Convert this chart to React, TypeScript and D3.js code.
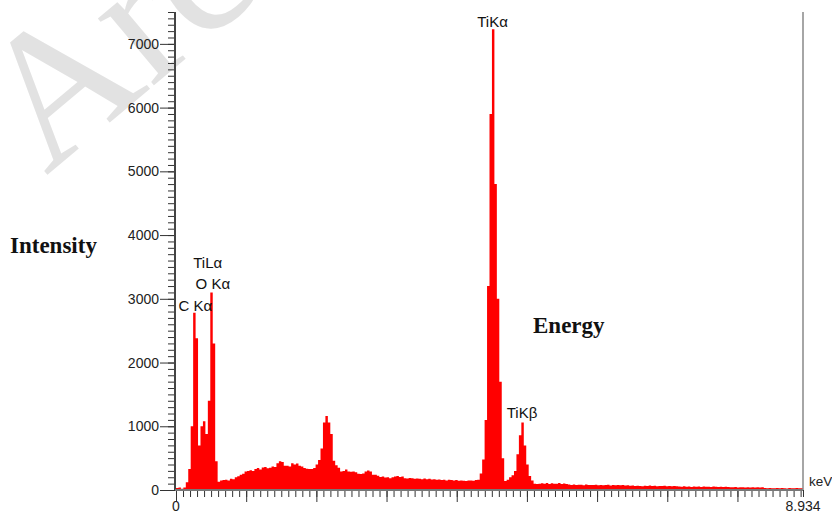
import React, { useEffect, useRef } from "react";
import * as d3 from "d3";

// EDS spectrum, counts per channel (256 channels over 0 - 8.934 keV)
const lowEnergy = [30, 40, 20, 40, 120, 330, 1000, 2780, 2380, 700, 1000, 1080, 880, 1400, 3100, 2300, 450, 130];
const background1 = [
  150, 155, 160, 150, 175, 170, 200, 215, 240, 255, 290, 300, 310, 300, 330, 345, 320, 355, 360, 340,
  350, 370, 360, 420, 450, 440, 380, 380, 370, 420, 400, 415, 380, 370, 345, 335, 330, 330, 345, 400,
];
const background2 = [
  470, 650, 1060, 1160, 1060, 880, 460, 390, 350,
  290, 300, 320, 290, 285, 290, 280, 255, 250, 260, 290, 305, 290,
  240, 240, 225, 205, 210, 195, 200, 185, 200, 210, 220, 205, 210, 185, 180, 190, 185, 175, 180, 175,
  170, 180, 170, 175, 165, 170, 160, 165, 155, 160, 150, 160, 155, 150, 155, 145, 150, 145, 140, 150, 150, 145, 155, 160,
];
const tiK = [260, 480, 1100, 3200, 5900, 7230, 4800, 3000, 1700, 500, 140, 160, 200, 230, 300, 560, 860, 1060, 700, 400, 220, 150, 100, 95, 100, 105];
const tail = [
  100, 110, 95, 105, 100, 98, 108, 96, 102, 94,
  85, 80, 88, 78, 84, 82, 76, 86, 80, 79,
  78, 82, 74, 80, 76, 79, 84, 72, 78, 75, 80, 73, 77, 70, 74,
  66, 70, 62, 68, 64, 60, 67, 63, 70, 61, 65, 58, 64, 62, 67, 60, 63, 59, 62, 57,
  55, 52, 58, 50, 54, 49, 56, 51, 53, 48, 55, 50, 52, 47, 54, 50, 49, 52, 46, 51, 48,
  44, 42, 46, 40, 43, 45, 39, 42, 41, 44, 38, 42, 40, 43,
  30, 28, 32, 26, 29, 31, 27, 33, 28, 25, 30, 27, 29, 31, 26, 28,
];
const counts = [...lowEnergy, ...background1, ...background2, ...tiK, ...tail];

const X_MAX = 8.934;
const Y_MAX = 7500;
const yMajorTicks = [0, 1000, 2000, 3000, 4000, 5000, 6000, 7000];
const xLabelValues = [0, 8.934];

const peakNames = ["TiKα", "TiLα", "O Kα", "C Kα", "TiKβ"];
const peakEnergies = [4.51, 0.452, 0.525, 0.277, 4.93];
const peakLabelCounts = [7270, 3480, 3150, 2810, 1130];

const App: React.FC = () => {
  const svgRef = useRef<SVGSVGElement | null>(null);

  useEffect(() => {
    const w = 832;
    const h = 514;
    const svg = d3.select(svgRef.current).attr("width", w).attr("height", h);
    svg.selectAll("*").remove();

    const xScale = d3.scaleLinear().domain([0, X_MAX]).range([176, 803]);
    const yScale = d3.scaleLinear().domain([0, Y_MAX]).range([490, 12]);

    // watermark
    svg
      .append("text")
      .attr("transform", "translate(46,176) rotate(-40)")
      .attr("font-family", "'Liberation Serif', serif")
      .attr("font-size", 190)
      .attr("fill", "#e2e2e2")
      .text("Archive");

    // spectrum as a step histogram
    const chWidth = X_MAX / counts.length;
    const pts: [number, number][] = counts.map((c, i) => [i * chWidth, c]);
    pts.push([X_MAX, counts[counts.length - 1]]);
    const area = d3
      .area<[number, number]>()
      .x((d) => xScale(d[0]))
      .y0(yScale(0))
      .y1((d) => yScale(d[1]))
      .curve(d3.curveStepAfter);
    svg.append("path").attr("d", area(pts)).attr("fill", "#ff0000");

    const sans = "'Liberation Sans', Arial, sans-serif";

    // y axis
    const yMinor = d3.range(0, Y_MAX + 1, 100);
    const gyMinor = svg
      .append("g")
      .attr("transform", "translate(176,0)")
      .call(d3.axisLeft(yScale).tickValues(yMinor).tickSize(8).tickFormat(() => ""));
    const gyMajor = svg
      .append("g")
      .attr("transform", "translate(176,0)")
      .call(d3.axisLeft(yScale).tickValues(yMajorTicks).tickSize(16).tickPadding(1).tickFormat(d3.format("d")));
    [gyMinor, gyMajor].forEach((g) => {
      g.select(".domain").remove();
      g.selectAll("line").attr("stroke", "#333");
      g.selectAll("text").attr("font-family", sans).attr("font-size", 14).attr("fill", "#222");
    });

    // x axis
    const xMinor = d3.range(0, X_MAX, 0.1).concat([X_MAX]);
    const gxMinor = svg
      .append("g")
      .attr("transform", "translate(0,490)")
      .call(d3.axisBottom(xScale).tickValues(xMinor).tickSize(7).tickFormat(() => ""));
    const gxMajor = svg
      .append("g")
      .attr("transform", "translate(0,490)")
      .call(d3.axisBottom(xScale).tickValues(d3.range(0, 9, 1)).tickSize(12).tickFormat(() => ""));
    [gxMinor, gxMajor].forEach((g) => {
      g.select(".domain").remove();
      g.selectAll("line").attr("stroke", "#333");
    });

    // frame lines
    svg.append("line").attr("x1", 175).attr("x2", 175).attr("y1", yScale(Y_MAX)).attr("y2", yScale(0))
      .attr("stroke", "#444").attr("stroke-width", 2);
    svg.append("line").attr("x1", 175).attr("x2", xScale(X_MAX)).attr("y1", yScale(0)).attr("y2", yScale(0))
      .attr("stroke", "#777").attr("stroke-width", 2);
    svg.append("line").attr("x1", xScale(X_MAX)).attr("x2", xScale(X_MAX)).attr("y1", yScale(Y_MAX)).attr("y2", yScale(0))
      .attr("stroke", "#888").attr("stroke-width", 1.5);

    svg
      .selectAll(".xlab")
      .data(xLabelValues)
      .enter()
      .append("text")
      .attr("x", (d) => xScale(d))
      .attr("y", 511)
      .attr("text-anchor", "middle")
      .attr("font-family", sans)
      .attr("font-size", 14)
      .attr("fill", "#222")
      .text((d) => String(d));

    svg.append("text").attr("x", 809).attr("y", 486).attr("font-family", sans).attr("font-size", 13.5)
      .attr("fill", "#222").text("keV");

    // peak labels
    svg
      .selectAll(".peak")
      .data(peakNames)
      .enter()
      .append("text")
      .attr("x", (_, i) => xScale(peakEnergies[i]))
      .attr("y", (_, i) => yScale(peakLabelCounts[i]))
      .attr("text-anchor", "middle")
      .attr("font-family", sans)
      .attr("font-size", 15)
      .attr("fill", "#111")
      .text((d) => d);

    // axis titles
    const serif = "'Liberation Serif', 'Times New Roman', serif";
    svg.append("text").attr("x", 10).attr("y", 253).attr("font-family", serif).attr("font-weight", "bold")
      .attr("font-size", 23).attr("fill", "#111").text("Intensity");
    svg.append("text").attr("x", 533).attr("y", 333).attr("font-family", serif).attr("font-weight", "bold")
      .attr("font-size", 23).attr("fill", "#111").text("Energy");
  }, []);

  return (
    <div style={{ position: "absolute", left: 0, top: 0, width: 832, height: 514, background: "#fff" }}>
      <svg ref={svgRef} style={{ display: "block" }}></svg>
    </div>
  );
};

export default App;
